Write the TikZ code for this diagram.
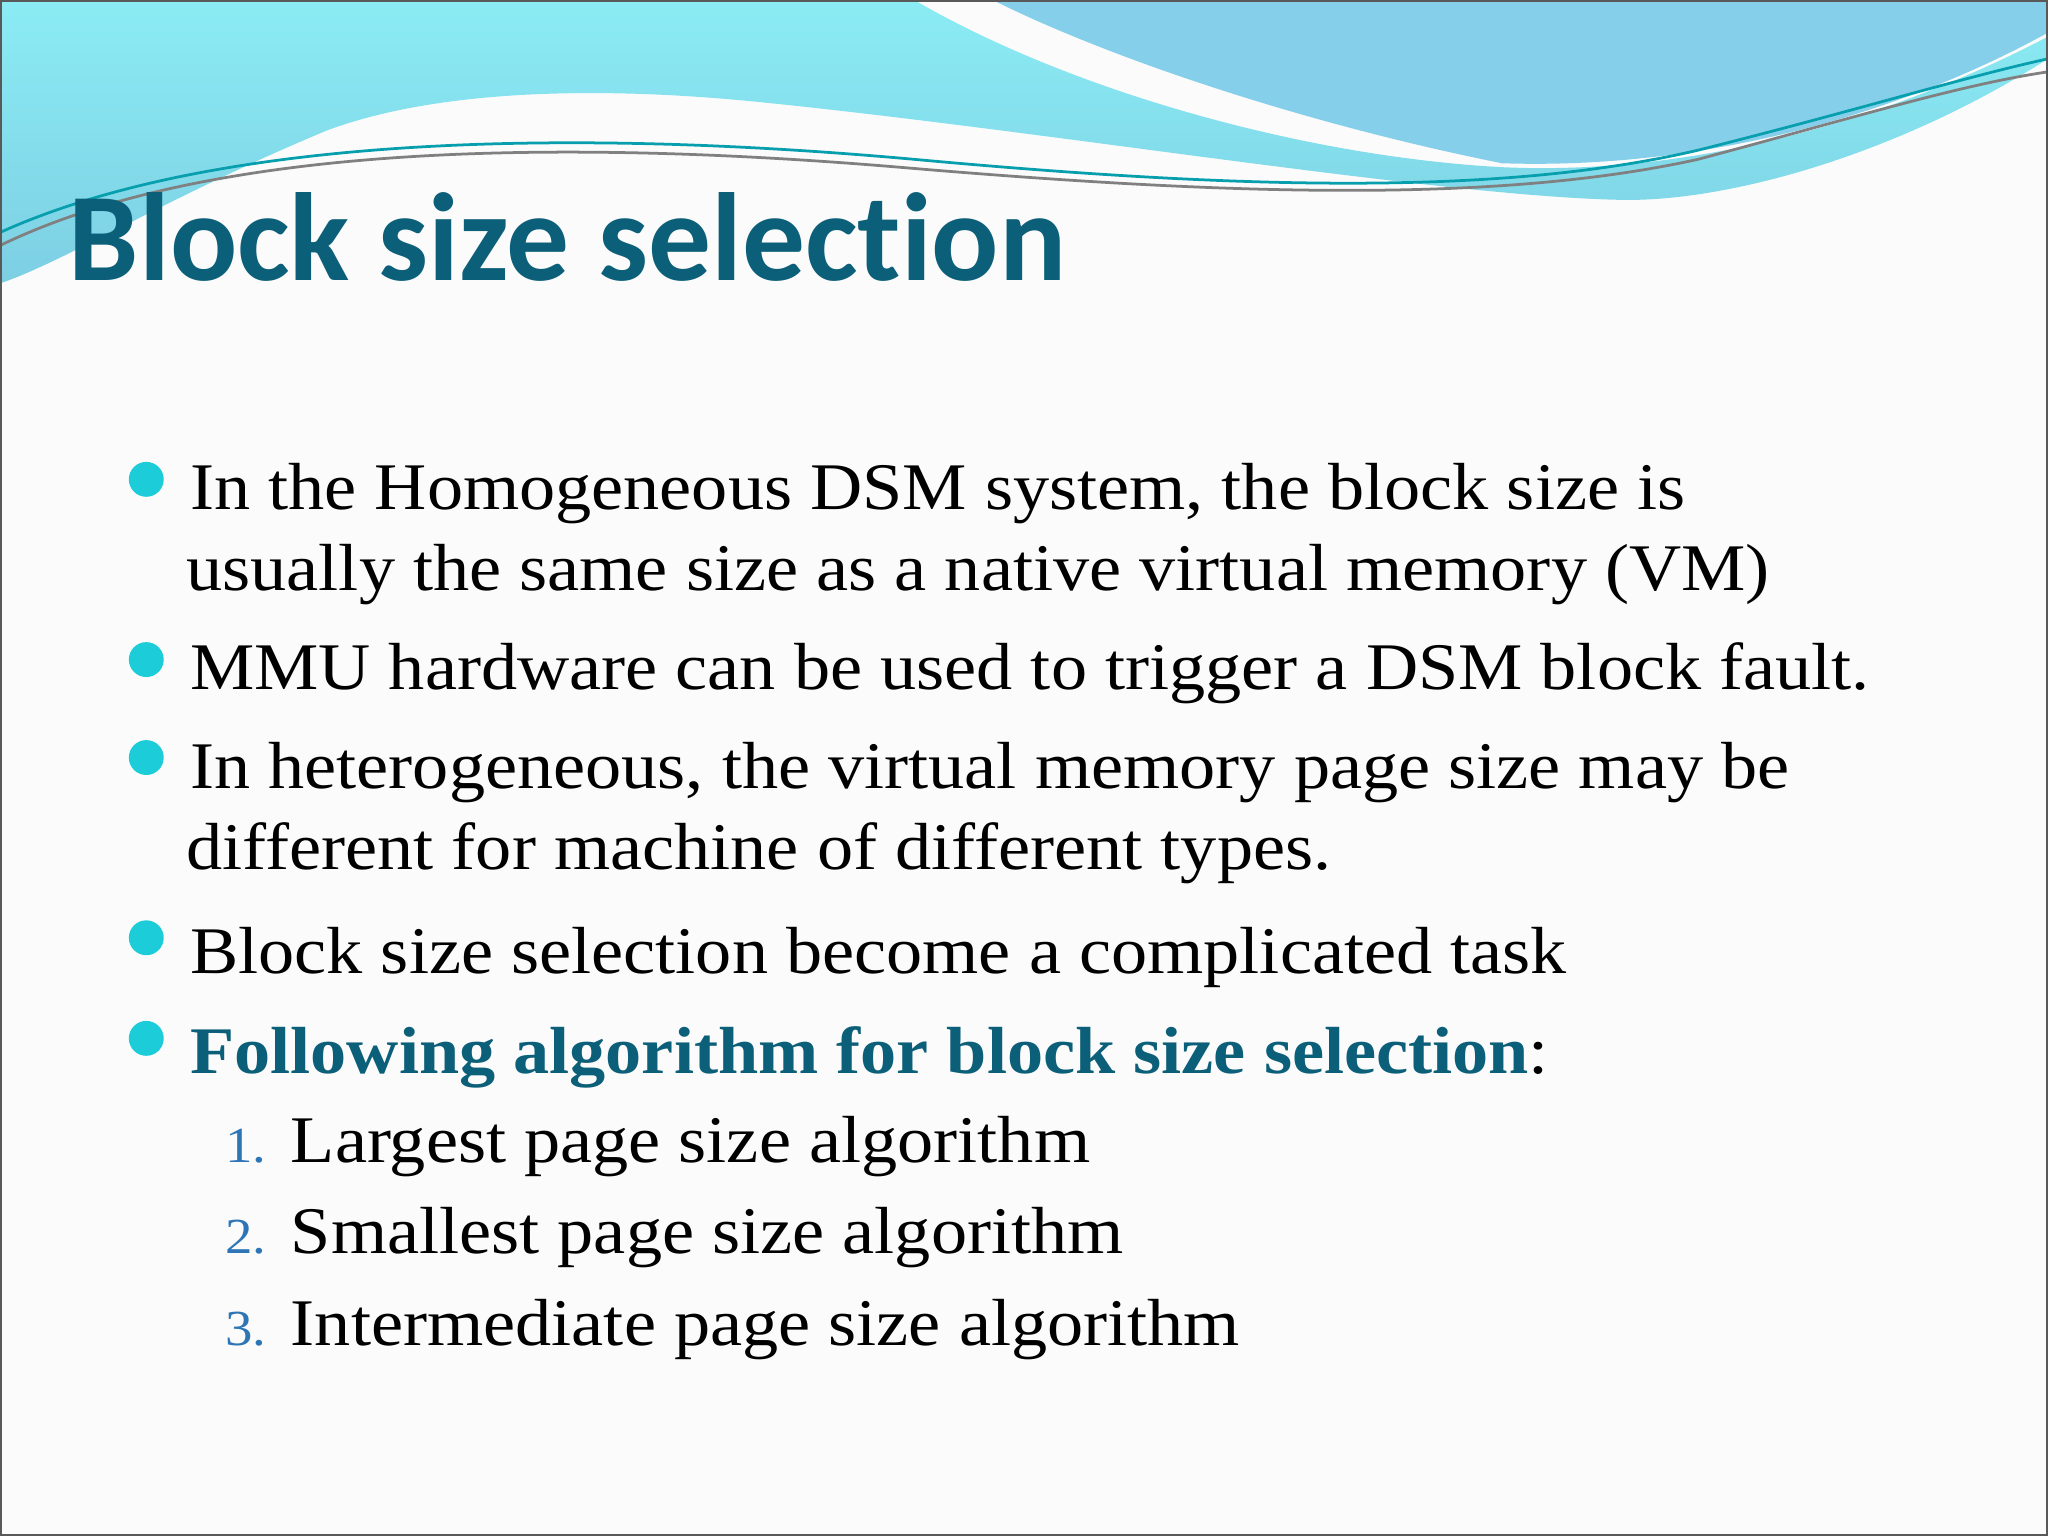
\documentclass[tikz,border=0pt]{standalone}
\usepackage{fontspec}
\setmainfont[FakeStretch=1.085]{Liberation Serif}
\newfontfamily\titlefont[Ligatures=NoCommon]{Carlito}
\definecolor{cyanA}{HTML}{8BECF4}
\definecolor{cyanB}{HTML}{7DCFE3}
\definecolor{blueB}{HTML}{86CFEA}
\definecolor{teal}{HTML}{0C5F78}
\definecolor{bul}{HTML}{1CCCD8}
\definecolor{num}{HTML}{2E75B6}
\tikzset{body/.style={anchor=base west,inner sep=0pt,font=\fontsize{14.5}{17}\selectfont},
bulletdot/.style={circle,fill=bul,minimum size=7.6pt,inner sep=0pt},
numtxt/.style={anchor=base west,inner sep=0pt,text=num,font=\fontsize{11}{13}\selectfont}}
\begin{document}
\begin{tikzpicture}[x=0.01cm,y=-0.01cm]
\useasboundingbox (0,0) rectangle (1568,1176);
\fill[white!97!gray] (0,0) rectangle (1568,1176);
\shade[top color=cyanA,bottom color=cyanB] (0,0)--(700,0) .. controls (820,70) and (1000,120) .. (1150,128) .. controls (1300,135) and (1450,90) .. (1568,28) -- (1568,45) .. controls (1450,120) and (1320,155) .. (1240,153) .. controls (1100,150) and (800,100) .. (580,78) .. controls (450,65) and (330,70) .. (250,100) .. controls (130,150) and (50,200) .. (0,217) -- cycle;
\fill[blueB] (760,0)--(1568,0)--(1568,25) .. controls (1450,90) and (1300,130) .. (1150,125) .. controls (1000,95) and (850,45) .. (760,0) -- cycle;
\draw[teal!60!cyan,line width=0.6pt] (0,178) .. controls (150,110) and (400,95) .. (700,122) .. controls (950,145) and (1150,150) .. (1300,115) .. controls (1420,85) and (1500,60) .. (1568,45);
\draw[gray,line width=0.6pt] (0,188) .. controls (150,115) and (400,103) .. (700,129) .. controls (950,150) and (1150,155) .. (1300,122) .. controls (1420,90) and (1500,65) .. (1568,55);
\draw[gray!70!black,line width=0.8pt] (0.5,0.5) rectangle (1567.5,1175.5);
\node[anchor=base west,inner sep=0pt,text=teal,font=\titlefont\bfseries\fontsize{27.3}{30}\selectfont] (title) at (52,215) {Block size selection};
\foreach \y/\n in {367/b1,505/b2,580/b3,718/b4,795/b5} \node[bulletdot] (\n) at (112,\y) {};
\node[body] (t1) at (145,390) {In the Homogeneous DSM system, the block size is};
\node[body] (t1b) at (142,452) {usually the same size as a native virtual memory (VM)};
\node[body] (t2) at (145,528) {MMU hardware can be used to trigger a DSM block fault.};
\node[body] (t3) at (145,604) {In heterogeneous, the virtual memory page size may be};
\node[body] (t3b) at (142,666) {different for machine of different types.};
\node[body] (t4) at (145,745) {Block size selection become a complicated task};
\node[body] (t5) at (145,822) {\textcolor{teal}{\textbf{Following algorithm for block size selection}}:};
\node[numtxt] (n1) at (172,890) {1.};
\node[numtxt] (n2) at (172,960) {2.};
\node[numtxt] (n3) at (172,1030) {3.};
\node[body] (s1) at (222,890) {Largest page size algorithm};
\node[body] (s2) at (222,960) {Smallest page size algorithm};
\node[body] (s3) at (222,1030) {Intermediate page size algorithm};
\end{tikzpicture}
\end{document}
